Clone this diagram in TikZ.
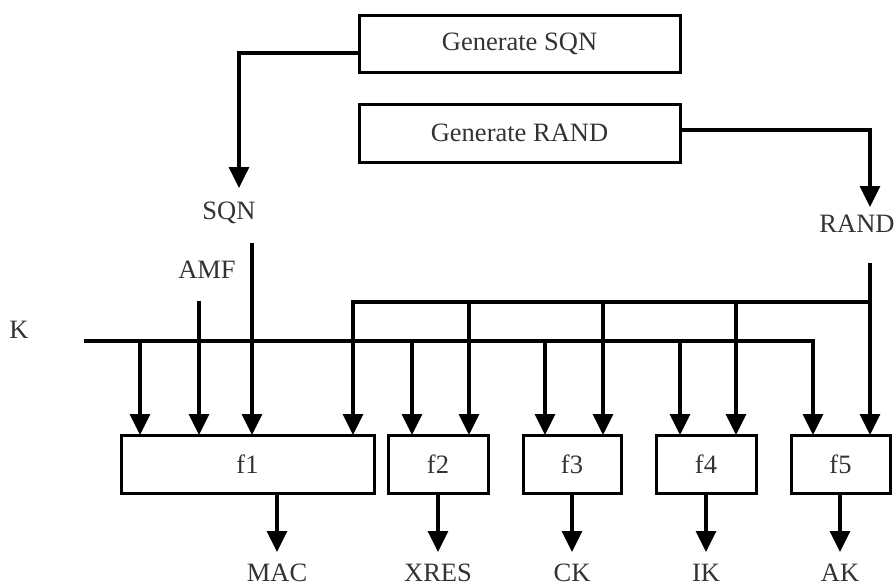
\documentclass[tikz,border=0pt]{standalone}
\usepackage{fontspec}
\setmainfont{Liberation Serif}
\usetikzlibrary{arrows.meta}
\begin{document}
\begin{tikzpicture}[x=1pt,y=-1pt,
  lbl/.style={font=\fontsize{26.5}{29}\selectfont, text=black!80, inner sep=0pt},
  fbox/.style={draw, line width=3pt, inner sep=0pt, outer sep=0pt, minimum height=58pt,
    font=\fontsize{26.5}{29}\selectfont, text=black!80},
  gbox/.style={draw, line width=3pt, inner sep=0pt, outer sep=0pt, minimum width=321pt,
    font=\fontsize{26.5}{29}\selectfont, text=black!80},
  wire/.style={line width=3.2pt},
  arr/.style={line width=3.2pt, -{Triangle[length=21pt,width=20pt]}}]
\useasboundingbox (0,0) rectangle (896,587);
% generator boxes
\node[gbox, minimum height=57pt] (gsqn) at (519.5,43.5) {Generate SQN};
\node[gbox, minimum height=58pt] (grand) at (519.5,133) {Generate RAND};
% labels
\node[lbl] (sqn) at (229,213) {SQN};
\node[lbl] (rand) at (857,224) {RAND};
\node[lbl] (amf) at (207,270) {AMF};
\node[lbl] (k) at (19,330) {K};
% f boxes
\node[fbox, minimum width=253pt] (f1) at (247.5,464) {f1};
\node[fbox, minimum width=100pt] (f2) at (438,464) {f2};
\node[fbox, minimum width=98pt] (f3) at (572,464) {f3};
\node[fbox, minimum width=100pt] (f4) at (706,464) {f4};
\node[fbox, minimum width=99pt] (f5) at (840.5,464) {f5};
% outputs
\node[lbl, anchor=base] (mac) at (277,581) {MAC};
\node[lbl, anchor=base] (xres) at (438,581) {XRES};
\node[lbl, anchor=base] (ck) at (572,581) {CK};
\node[lbl, anchor=base] (ik) at (706,581) {IK};
\node[lbl, anchor=base] (ak) at (840,581) {AK};
% coordinates
\coordinate (sqntip) at (239,188);
\coordinate (randtip) at (870,207);
\coordinate (sqnline) at (252,243);
\coordinate (amfline) at (199,301);
\coordinate (randline) at (870,263);
\coordinate (kstart) at (84,341);
\foreach \n/\x in {k1/140,k2/412,k3/545,k4/680,k5/813}{\coordinate (\n) at (\x,341);}
\foreach \n/\x in {r1/353,r2/469,r3/603,r4/736,r5/870}{\coordinate (\n) at (\x,302);}
\foreach \n/\x in {o1/277,o2/438,o3/572,o4/706,o5/840}{\coordinate (\n) at (\x,552);}
% generator outputs
\draw[arr] ([yshift=-9.5pt]gsqn.west) -| (sqntip);
\draw[arr] ([yshift=3pt]grand.east) -| (randtip);
% SQN, AMF into f1
\draw[arr] (sqnline) -- (sqnline |- f1.north);
\draw[arr] (amfline) -- (amfline |- f1.north);
% RAND bus
\draw[arr] (randline) -- (r5 |- f5.north);
\draw[arr] (r5) -| (r1 |- f1.north);
\draw[arr] (r2) -- (r2 |- f2.north);
\draw[arr] (r3) -- (r3 |- f3.north);
\draw[arr] (r4) -- (r4 |- f4.north);
% K bus
\draw[arr] (kstart) -| (k5 |- f5.north);
\draw[arr] (k1) -- (k1 |- f1.north);
\draw[arr] (k2) -- (k2 |- f2.north);
\draw[arr] (k3) -- (k3 |- f3.north);
\draw[arr] (k4) -- (k4 |- f4.north);
% outputs
\draw[arr] (o1 |- f1.south) -- (o1);
\draw[arr] (o2 |- f2.south) -- (o2);
\draw[arr] (o3 |- f3.south) -- (o3);
\draw[arr] (o4 |- f4.south) -- (o4);
\draw[arr] (o5 |- f5.south) -- (o5);
\end{tikzpicture}
\end{document}
